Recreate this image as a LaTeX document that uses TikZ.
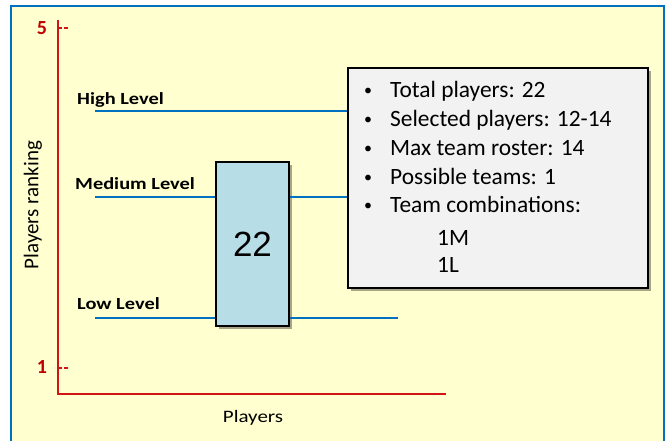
\documentclass[tikz,border=0pt]{standalone}
\usepackage{fontspec}
\setmainfont{Carlito}
\newfontfamily\chartfont{Carlito}[FakeStretch=1.2]
\newfontfamily\arialfont{Liberation Sans}
\usetikzlibrary{shadows}

\definecolor{bgyellow}{RGB}{255,255,208}
\definecolor{frameblue}{RGB}{0,112,192}
\definecolor{axisred}{RGB}{210,20,20}
\definecolor{ticklabelred}{RGB}{192,0,0}
\definecolor{levelblue}{RGB}{0,112,192}
\definecolor{boxblue}{RGB}{183,222,230}
\definecolor{infogray}{RGB}{242,242,242}

\tikzset{
  levellabel/.style={anchor=base west, inner sep=0pt,
    font=\chartfont\bfseries\fontsize{17}{20}\selectfont},
  levelline/.style={draw=levelblue, line width=1.6pt},
  axis/.style={draw=axisred, line width=2pt},
  ticklabel/.style={text=ticklabelred, font=\bfseries\fontsize{20}{24}\selectfont},
  infotext/.style={anchor=base west, inner sep=0pt, font=\fontsize{23.4}{28}\selectfont},
  infobullet/.style={anchor=base, inner sep=0pt, font=\fontsize{16}{20}\selectfont},
  softshadow/.style={drop shadow={shadow xshift=3pt, shadow yshift=-3pt,
    fill=black, opacity=0.35}}
}

\begin{document}
\begin{tikzpicture}[x=1pt, y=-1pt]
  \useasboundingbox (0,0) rectangle (670,441);
  \fill[white] (0,0) rectangle (670,441);
  \fill[bgyellow] (11,6) rectangle (664,441);
  \draw[frameblue, line width=2.5pt] (11,441) -- (11,6) -- (664,6) -- (664,441);

  % axes
  \coordinate (ytop) at (58,20);
  \coordinate (origin) at (58,394);
  \coordinate (xend) at (446,394);
  \draw[axis] (ytop) -- (origin) -- (xend);
  \coordinate (t5) at (58,28);
  \coordinate (t1) at (58,368);
  \draw[axisred, line width=1.2pt, dash pattern=on 4pt off 2pt] (t5) -- ++(11,0);
  \draw[axisred, line width=1.2pt, dash pattern=on 4pt off 2pt] (t1) -- ++(11,0);
  \node[ticklabel] (n5) at (42,28) {5};
  \node[ticklabel] (n1) at (42,367) {1};
  \node[rotate=90, font=\fontsize{21}{24}\selectfont] (ylabel) at (33,205) {Players ranking};
  \node[anchor=base, inner sep=0pt, font=\chartfont\fontsize{17.5}{20}\selectfont] (xlabel) at (253,422) {Players};

  % boxes
  \node[draw=black, line width=2pt, fill=boxblue, softshadow,
    minimum width=73pt, minimum height=164pt, inner sep=0pt,
    font=\arialfont\fontsize{35}{40}\selectfont] (box22) at (252.5,244) {22};
  \node[draw=black, line width=2pt, fill=infogray, softshadow,
    minimum width=300pt, minimum height=220pt, inner sep=0pt] (info) at (498,178) {};

  % levels
  \node[levellabel] (high) at (77,105) {High Level};
  \node[levellabel] (medium) at (75,190) {Medium Level};
  \node[levellabel] (low) at (77,309) {Low Level};
  \coordinate (hl) at (95,111);
  \coordinate (ml) at (95,197);
  \coordinate (ll) at (95,318);
  \coordinate (llend) at (398,318);
  \draw[levelline] (hl) -- (info.west |- hl);
  \draw[levelline] (ml) -- (box22.west |- ml);
  \draw[levelline] (box22.east |- ml) -- (info.west |- ml);
  \draw[levelline] (ll) -- (box22.west |- ll);
  \draw[levelline] (box22.east |- ll) -- (llend);

  % info list
  \foreach \txt [count=\i] in {Total players: 22, Selected players: 12-14,
      Max team roster: 14, Possible teams: 1, Team combinations:} {
    \node[infobullet] (bullet\i) at (368,96+28.75*\i-28.75) {\textbullet};
    \node[infotext] (item\i) at (390,98+28.75*\i-28.75) {\txt};
  }
  \node[infotext] (combM) at (437,245.5) {1M};
  \node[infotext] (combL) at (437,272.5) {1L};
\end{tikzpicture}
\end{document}
